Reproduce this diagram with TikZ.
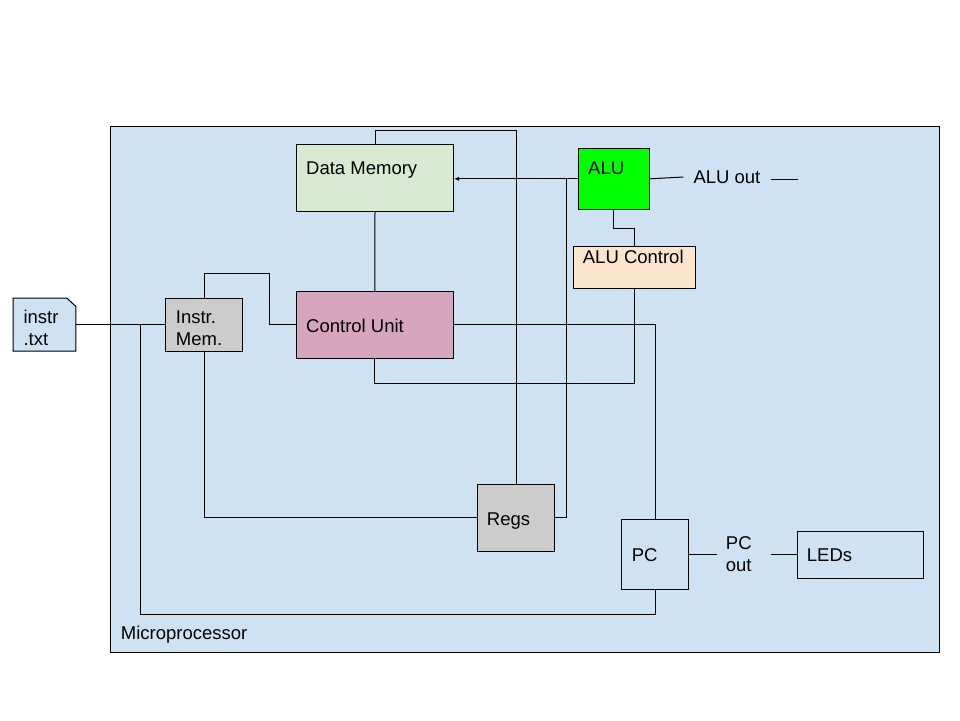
\documentclass[tikz,border=0pt]{standalone}
\usepackage{fontspec}
\setmainfont{Liberation Sans}
\usetikzlibrary{arrows.meta}
\definecolor{bgblue}{HTML}{CFE2F3}
\definecolor{dmgreen}{HTML}{D9EAD3}
\definecolor{alugreen}{HTML}{00FF00}
\definecolor{alucpeach}{HTML}{FCE5CD}
\definecolor{cupink}{HTML}{D5A6BD}
\definecolor{boxgray}{HTML}{CCCCCC}
\begin{document}
\begin{tikzpicture}[x=1pt,y=-1pt,
  box/.style={draw=black, rectangle, inner sep=0pt, line width=1pt},
  lbl/.style={inner sep=0pt, anchor=base west, font=\fontsize{18.5}{21.7}\selectfont},
  wire/.style={draw=black, line width=1pt},
  arr/.style={wire, -{Latex[length=5pt,width=4.5pt]}}]
\useasboundingbox (0,0) rectangle (960,720);
% container
\node[box, fill=bgblue, minimum width=828.6pt, minimum height=526pt] (mp) at (525,389) {};
\node[lbl] (mpt) at (120.7,639) {Microprocessor};
% blocks
\node[box, fill=dmgreen, minimum width=157.4pt, minimum height=66.7pt] (dm) at (375,177.65) {};
\node[lbl] (dmt) at (306,174) {Data Memory};
\node[box, fill=alugreen, minimum width=71pt, minimum height=61pt] (alu) at (613.8,178.8) {};
\node[lbl] (alut) at (588,174) {ALU};
\node[box, fill=alucpeach, minimum width=122pt, minimum height=42pt] (aluc) at (634.3,267.3) {};
\node[lbl] (aluct) at (582.7,263.3) {ALU Control};
\node[box, fill=cupink, minimum width=157pt, minimum height=67pt] (cu) at (374.8,324.8) {};
\node[lbl] (cut) at (306,332) {Control Unit};
\node[box, fill=boxgray, minimum width=76.6pt, minimum height=52.7pt] (im) at (204,324.65) {};
\node[lbl, align=left] (imt) at (175.7,345.5) {Instr.\\Mem.};
\node[box, fill=boxgray, minimum width=77pt, minimum height=67pt] (regs) at (515.8,517.8) {};
\node[lbl] (regst) at (486.7,525) {Regs};
\node[box, fill=bgblue, minimum width=67.4pt, minimum height=69.7pt] (pc) at (655,554.15) {};
\node[lbl] (pct) at (631.7,561.7) {PC};
\node[box, fill=bgblue, minimum width=126pt, minimum height=47pt] (leds) at (860.3,554.8) {};
\node[lbl] (ledst) at (806.7,561.7) {LEDs};
% instr.txt file
\node[inner sep=0pt, minimum width=62.4pt, minimum height=52.7pt] (instr) at (44.5,324.65) {};
\draw[box, fill=bgblue] (instr.south west) -- (instr.north west) -- ([xshift=-9pt]instr.north east)
  -- ([yshift=-8.4pt]instr.north east) -- (instr.south east) -- cycle;
\node[lbl, align=left] (instrt) at (23.3,345.5) {instr\\.txt};
% free labels
\node[lbl, inner xsep=10pt] (aluout) at (683.3,183.3) {ALU out};
\node[lbl, align=left, inner xsep=9pt] (pcout) at (716.7,571) {PC\\out};
% helper coordinates
\coordinate (aluend) at (798.3,179.3);
\coordinate (loopc) at (140.7,614);
\coordinate (imtop) at (269.3,273.7);
\coordinate (dmtop) at (516,130.3);
\coordinate (regj) at (566.7,178.8);
\coordinate (cubot) at (374.8,383.3);
% wires
\draw[wire] (instr.east) -- (im.west);
\draw[wire] (pc.south) |- (loopc) -- (loopc |- im.west);
\draw[wire] (im.north) |- (imtop) |- (cu.west);
\draw[wire] (im.south) |- (regs.west);
\draw[wire] (dm.north) |- (dmtop) -- (dmtop |- regs.north);
\draw[wire] (dm.south) -- (cu.north);
\draw[arr] (alu.west) -- (dm.east |- alu.west);
\draw[wire] (regs.east) -| (regj);
\draw[wire] (alu.south) -- ++(0,19) -| (aluc.north);
\draw[wire] (aluc.south) |- (cubot) -- (cu.south);
\draw[wire] (cu.east) -| (pc.north);
\draw[wire] (alu.east) -- (aluout.west);
\draw[wire] (aluout.east |- aluend) -- (aluend);
\draw[wire] (pc.east) -- (pc.east -| pcout.west);
\draw[wire, shorten <=10.6pt] (pcout.east |- leds.west) -- (leds.west);
\end{tikzpicture}
\end{document}
